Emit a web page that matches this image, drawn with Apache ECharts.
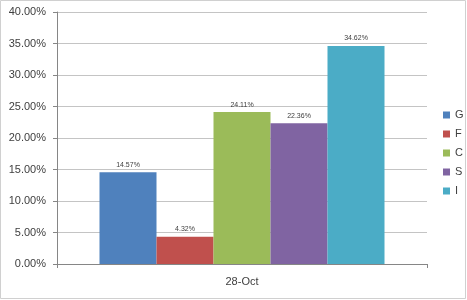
<!DOCTYPE html>
<html>
<head>
<meta charset="utf-8">
<script src="https://cdn.jsdelivr.net/npm/echarts@6/dist/echarts.min.js"></script>
<style>
html,body{margin:0;padding:0;background:#fff;}
#c{width:467px;height:300px;}
</style>
</head>
<body>
<div id="c"></div>
<script>
var categories = ['28-Oct'];
var seriesNames = ['G', 'F', 'C', 'S', 'I'];
var seriesValues = [[0.1457], [0.0432], [0.2411], [0.2236], [0.3462]];
var seriesColors = ['#4F81BD', '#C0504D', '#9BBB59', '#8064A2', '#4BACC6'];
var yTicks = { min: 0, max: 0.4, interval: 0.05 };

var chart = echarts.init(document.getElementById('c'), null, { renderer: 'canvas' });
var fontFam = '"Liberation Sans", Arial, sans-serif';
var series = seriesNames.map(function (n, i) {
  return {
    name: n,
    type: 'bar',
    data: seriesValues[i],
    barWidth: 57,
    barGap: '0%',
    itemStyle: { color: seriesColors[i] },
    label: {
      show: true,
      position: 'top',
      distance: 4,
      fontSize: 7,
      color: '#404040',
      fontFamily: fontFam,
      formatter: function (p) { return (p.value * 100).toFixed(2) + '%'; }
    }
  };
});
chart.setOption({
  animation: false,
  backgroundColor: '#fff',
  textStyle: { fontFamily: fontFam },
  graphic: [{
    type: 'rect', shape: { x: 0.5, y: 0.5, width: 465, height: 298 },
    style: { fill: 'none', stroke: '#d0d0d0', lineWidth: 1 }, silent: true, z: -1
  }],
  grid: { left: 57, right: 40, top: 12, bottom: 36 },
  legend: {
    orient: 'vertical',
    left: 438,
    top: 104,
    itemWidth: 7,
    itemHeight: 7,
    itemGap: 7,
    icon: 'rect',
    textStyle: { fontSize: 11, color: '#404040', lineHeight: 12 },
    data: seriesNames
  },
  xAxis: {
    type: 'category',
    data: categories,
    axisLine: { lineStyle: { color: '#868686' } },
    axisTick: { show: true, length: 4, lineStyle: { color: '#868686' } },
    axisLabel: { fontSize: 11, color: '#404040', margin: 12 }
  },
  yAxis: {
    type: 'value',
    min: yTicks.min,
    max: yTicks.max,
    interval: yTicks.interval,
    axisLine: { show: true, lineStyle: { color: '#868686' } },
    axisTick: { show: true, length: 4, lineStyle: { color: '#868686' } },
    splitLine: { lineStyle: { color: '#c4c4c4' } },
    axisLabel: {
      fontSize: 11, color: '#404040', margin: 11,
      formatter: function (v) { return (v * 100).toFixed(2) + '%'; }
    }
  },
  series: series
});
</script>
</body>
</html>
